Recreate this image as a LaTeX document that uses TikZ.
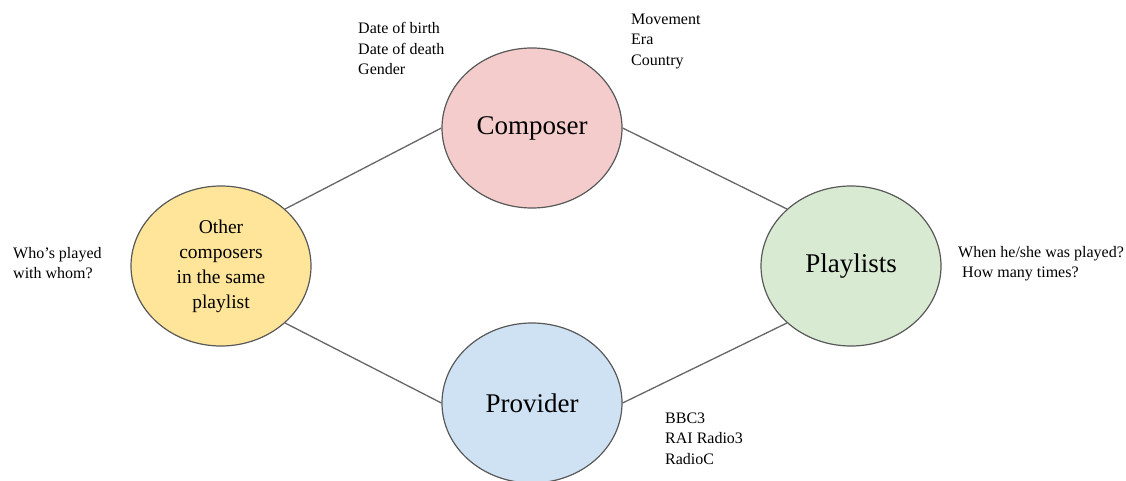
\documentclass[tikz,border=0pt]{standalone}
\usepackage{fontspec}
\setmainfont{Liberation Serif}
\usetikzlibrary{shapes.geometric}
\definecolor{edgegray}{HTML}{666666}
\definecolor{ringgray}{HTML}{595959}
\definecolor{cpink}{HTML}{F4CCCC}
\definecolor{cyellow}{HTML}{FFE599}
\definecolor{cgreen}{HTML}{D9EAD3}
\definecolor{cblue}{HTML}{CFE2F3}
\tikzset{
  bubble/.style={ellipse, draw=ringgray, line width=1.2pt, minimum width=180pt, minimum height=160pt, inner sep=0pt, align=center},
  biglabel/.style={font=\fontsize{27}{32}\selectfont},
  midlabel/.style={font=\fontsize{19.5}{25}\selectfont},
  note/.style={anchor=west, inner sep=0pt, align=left, font=\fontsize{16}{20.5}\selectfont},
  link/.style={draw=edgegray, line width=1.3pt}
}
\begin{document}
\begin{tikzpicture}[x=1pt,y=-1pt]
\useasboundingbox[fill=white] (0,0) rectangle (1126,481);
\node[bubble, fill=cpink, biglabel] (composer) at (532,128) {Composer};
\node[bubble, fill=cyellow, midlabel] (other) at (221,266) {Other\\composers\\in the same\\playlist};
\node[bubble, fill=cgreen, biglabel] (playlists) at (851,266) {Playlists};
\node[bubble, fill=cblue, biglabel] (provider) at (532,403) {Provider};
\draw[link] (composer.west) -- (other.north east);
\draw[link] (composer.east) -- (playlists.north west);
\draw[link] (other.south east) -- (provider.west);
\draw[link] (provider.east) -- (playlists.south west);
\node[note] (n1) at (358,48.5) {Date of birth\\Date of death\\Gender};
\node[note] (n2) at (631,41) {Movement\\Era\\Country};
\node[note] (n3) at (13,263) {Who’s played\\with whom?};
\node[note] (n4) at (958,263.5) {When he/she was played?\\\ How many times?};
\node[note] (n5) at (665,438.5) {BBC3\\RAI Radio3\\RadioC};
\end{tikzpicture}
\end{document}
